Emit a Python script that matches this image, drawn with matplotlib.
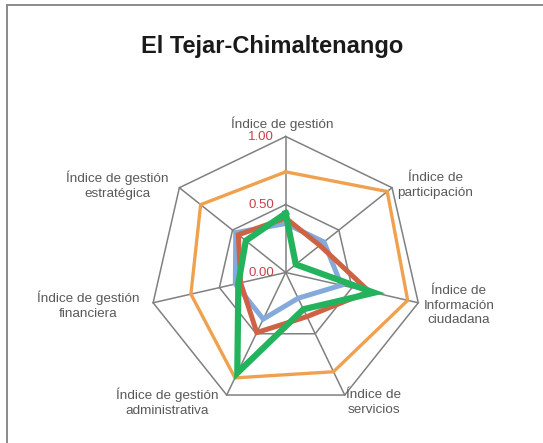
import numpy as np
import matplotlib
matplotlib.use('Agg')
import matplotlib.pyplot as plt
from matplotlib.patches import Rectangle

plt.rcParams['font.family'] = ['Liberation Sans', 'DejaVu Sans']

# Datos del gráfico (7 índices, sentido horario desde arriba)
categories = [
    'Índice de gestión',
    'Índice de\nparticipación',
    'Índice de\nInformación\nciudadana',
    'Índice de\nservicios',
    'Índice de gestión\nadministrativa',
    'Índice de gestión\nfinanciera',
    'Índice de gestión\nestratégica',
]
serie_naranja = [0.74, 0.955, 0.92, 0.81, 0.86, 0.715, 0.80]
serie_azul = [0.36, 0.36, 0.42, 0.21, 0.38, 0.38, 0.47]
serie_roja = [0.40, 0.32, 0.63, 0.36, 0.49, 0.34, 0.445]
serie_verde = [0.435, 0.095, 0.667, 0.30, 0.82, 0.357, 0.375]
ticks = [0.0, 0.5, 1.0]
tick_labels = ['0.00', '0.50', '1.00']

COLORS = {
    'naranja': '#F0A150',
    'azul': '#84AADC',
    'roja': '#CF6244',
    'verde': '#22B35C',
    'grid': '#808080',
    'texto': '#595959',
    'tick': '#C8404A',
}

n = len(categories)
angles = np.arange(n) * 2 * np.pi / n


def to_xy(values):
    v = np.asarray(values + values[:1], dtype=float)
    a = np.append(angles, angles[0])
    return v * np.sin(a), v * np.cos(a)


W, H, DPI = 543, 443, 100
fig = plt.figure(figsize=(W / DPI, H / DPI), dpi=DPI)

# marco del área del gráfico
fig.add_artist(Rectangle((7 / W, -0.1), 1.2, (H - 5) / H + 0.1, transform=fig.transFigure,
                         fill=False, edgecolor='#8a8a8a', linewidth=1.4))

cx, cy, R = 285.7, 443 - 272.5, 136.0
span = 1.25
ax = fig.add_axes([(cx - span * R) / W, (cy - span * R) / H, 2 * span * R / W, 2 * span * R / H])
ax.set_xlim(-span, span)
ax.set_ylim(-span, span)
ax.axis('off')

# rejilla
for t in ticks[1:]:
    gx, gy = to_xy([t] * n)
    ax.plot(gx, gy, color=COLORS['grid'], linewidth=1.1, zorder=1)
for a in angles:
    ax.plot([0, np.sin(a)], [0, np.cos(a)], color=COLORS['grid'], linewidth=1.1, zorder=1)

# series
for vals, col, lw, z in [
    (serie_naranja, 'naranja', 2.4, 2),
    (serie_azul, 'azul', 3.6, 3),
    (serie_roja, 'roja', 3.6, 4),
    (serie_verde, 'verde', 4.5, 5),
]:
    x, y = to_xy(vals)
    ax.plot(x, y, color=COLORS[col], linewidth=lw, zorder=z, solid_joinstyle='miter')

# etiquetas de eje radial
for t, lab in zip(ticks, tick_labels):
    ax.text(-0.086, t, lab, ha='right', va='center', fontsize=9.5, color=COLORS['tick'], zorder=6)

# etiquetas de categorías
label_pos = [(-0.024, 1.095), (1.098, 0.640), (1.274, -0.243), (0.649, -0.956),
             (-0.873, -0.956), (-1.454, -0.239), (-1.240, 0.640)]
for lab, (lx, ly) in zip(categories, label_pos):
    ax.text(lx, ly, lab, ha='center', va='center', multialignment='center',
            fontsize=9.7, color=COLORS['texto'], linespacing=1.32)

fig.text(272 / W, 1 - 53 / H, 'El Tejar-Chimaltenango', ha='center', va='baseline',
         fontsize=17, fontweight='bold', color='#1a1a1a')

fig.savefig('out.png', dpi=DPI)
